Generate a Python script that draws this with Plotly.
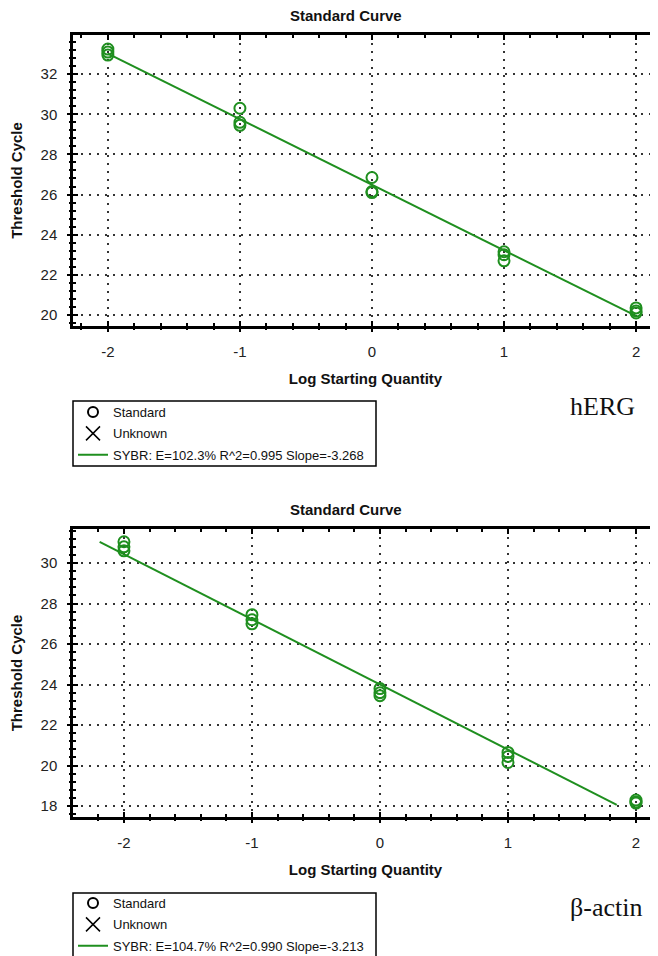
import plotly.graph_objects as go

W, H = 658, 956
OFF = 8  # page body margin of the browser

# ---------------- data ----------------
log_qty = [-2, -2, -2, -1, -1, -1, 0, 0, 0, 1, 1, 1, 2, 2, 2]

herg_ct = [33.25, 33.1, 32.95, 30.3, 29.6, 29.45, 26.85, 26.15, 26.1,
           23.15, 23.0, 22.7, 20.35, 20.2, 20.1]
herg_fit_x = [-2.0, 2.0]
herg_fit_y = [33.02, 19.95]
herg_label = "SYBR: E=102.3% R^2=0.995 Slope=-3.268"

actin_ct = [31.05, 30.8, 30.6, 27.45, 27.2, 27.0, 23.8, 23.6, 23.45,
            20.65, 20.45, 20.15, 18.3, 18.2, 18.15]
actin_fit_x = [-2.19, 1.85]
actin_fit_y = [31.04, 18.06]
actin_label = "SYBR: E=104.7% R^2=0.990 Slope=-3.213"

x_ticks = [-2, -1, 0, 1, 2]
x_tick_labels = ["-2", "-1", "0", "1", "2"]
herg_y_ticks = [20, 22, 24, 26, 28, 30, 32]
actin_y_ticks = [18, 20, 22, 24, 26, 28, 30]

GREEN = "#1f8f1f"
FONT = "Liberation Sans, Arial, sans-serif"

fig = go.Figure()


def px_x(p):
    return (p - OFF) / W


def px_y(p):
    return 1 - (p - OFF) / H


panels = [
    dict(ct=herg_ct, fx=herg_fit_x, fy=herg_fit_y, label=herg_label,
         xr=[-2.264, 2.166], yr=[19.45, 33.95], yt=herg_y_ticks,
         top=35, bottom=326, title_y=15, box=(401, 466), legend_top=397,
         name="hERG", name_x=602, name_y=406, legend="legend"),
    dict(ct=actin_ct, fx=actin_fit_x, fy=actin_fit_y, label=actin_label,
         xr=[-2.398, 2.172], yr=[17.46, 31.68], yt=actin_y_ticks,
         top=529, bottom=817, title_y=510, box=(893, 958), legend_top=888,
         name="β-actin", name_x=606, name_y=907, legend="legend2"),
]

layout = dict(
    width=W, height=H, margin=dict(l=0, r=0, t=0, b=0),
    paper_bgcolor="white", plot_bgcolor="white",
    font=dict(family=FONT, color="#111"),
    annotations=[], shapes=[],
)

for i, p in enumerate(panels):
    xa = "x" if i == 0 else "x2"
    ya = "y" if i == 0 else "y2"
    xo = "x3" if i == 0 else "x4"
    yo = "y3" if i == 0 else "y4"
    xkey = "xaxis" if i == 0 else "xaxis2"
    ykey = "yaxis" if i == 0 else "yaxis2"
    xokey = "xaxis3" if i == 0 else "xaxis4"
    yokey = "yaxis3" if i == 0 else "yaxis4"
    dom_x = [px_x(73), px_x(658)]
    dom_y = [px_y(p["bottom"]), px_y(p["top"])]

    # fit line
    fig.add_trace(go.Scatter(x=p["fx"], y=p["fy"], mode="lines", xaxis=xa, yaxis=ya,
                             line=dict(color=GREEN, width=2), showlegend=False,
                             hoverinfo="skip"))
    # standards
    fig.add_trace(go.Scatter(x=log_qty, y=p["ct"], mode="markers", xaxis=xa, yaxis=ya,
                             marker=dict(symbol="circle-open", size=11, color=GREEN,
                                         line=dict(width=2, color=GREEN)),
                             showlegend=False))
    # legend entries
    fig.add_trace(go.Scatter(x=[None], y=[None], mode="markers", xaxis=xa, yaxis=ya,
                             name="Standard", legend=p["legend"], legendgroup=f"s{i}",
                             marker=dict(symbol="circle-open", size=10, color="black",
                                         line=dict(width=2, color="black"))))
    fig.add_trace(go.Scatter(x=[None], y=[None], mode="markers", xaxis=xa, yaxis=ya,
                             name="Unknown", legend=p["legend"], legendgroup=f"u{i}",
                             marker=dict(symbol="x-thin-open", size=14, color="black",
                                         line=dict(width=1.5, color="black"))))
    fig.add_trace(go.Scatter(x=[None], y=[None], mode="lines", xaxis=xa, yaxis=ya,
                             name=p["label"], legend=p["legend"], legendgroup=f"f{i}",
                             line=dict(color=GREEN, width=2)))
    # empty traces to activate overlay axes (crossing ticks)
    fig.add_trace(go.Scatter(x=[], y=[], xaxis=xo, yaxis=ya, showlegend=False))
    fig.add_trace(go.Scatter(x=[], y=[], xaxis=xa, yaxis=yo, showlegend=False))

    grid = dict(showgrid=True, gridcolor="#333", griddash="2px,6px", gridwidth=1.5,
                zeroline=False)
    layout[xkey] = dict(
        domain=dom_x, anchor=ya, range=p["xr"], tickvals=x_ticks, ticktext=x_tick_labels,
        ticks="inside", ticklen=5, tickwidth=2, tickcolor="black",
        minor=dict(dtick=0.2, tick0=0, ticks="inside", ticklen=3, tickwidth=2,
                   tickcolor="black", showgrid=False),
        showline=True, linewidth=2.5, linecolor="black", mirror="ticks",
        tickfont=dict(size=15, color="#222"), ticklabelstandoff=10,
        title=dict(text="<b>Log Starting Quantity</b>", font=dict(size=15, color="#111"),
                   standoff=15),
        fixedrange=True, **grid)
    layout[ykey] = dict(
        domain=dom_y, anchor=xa, range=p["yr"], tickvals=p["yt"],
        ticks="inside", ticklen=5, tickwidth=2, tickcolor="black",
        minor=dict(dtick=0.4, tick0=0, ticks="inside", ticklen=3, tickwidth=2,
                   tickcolor="black", showgrid=False),
        showline=True, linewidth=2.5, linecolor="black",
        tickfont=dict(size=15, color="#222"), ticklabelstandoff=10,
        title=dict(text="<b>Threshold Cycle</b>", font=dict(size=15, color="#111"),
                   standoff=18),
        fixedrange=True, **grid)
    layout[xokey] = dict(
        overlaying=xa, anchor=ya, range=p["xr"], tickvals=x_ticks,
        ticks="outside", ticklen=5, tickwidth=2, tickcolor="black",
        minor=dict(dtick=0.2, tick0=0, ticks="outside", ticklen=3, tickwidth=2,
                   tickcolor="black", showgrid=False),
        showticklabels=False, showgrid=False, showline=False, zeroline=False,
        side="bottom", fixedrange=True)
    layout[yokey] = dict(
        overlaying=ya, anchor=xa, range=p["yr"], tickvals=p["yt"],
        ticks="outside", ticklen=5, tickwidth=2, tickcolor="black",
        minor=dict(dtick=0.4, tick0=0, ticks="outside", ticklen=3, tickwidth=2,
                   tickcolor="black", showgrid=False),
        showticklabels=False, showgrid=False, showline=False, zeroline=False,
        side="left", fixedrange=True)

    layout[p["legend"]] = dict(
        x=px_x(73), y=px_y(p["legend_top"]), xanchor="left", yanchor="top",
        bgcolor="rgba(0,0,0,0)", borderwidth=0, tracegroupgap=1.5,
        font=dict(size=13, color="#111", family=FONT), traceorder="grouped",
        itemclick=False, itemdoubleclick=False,
    )
    layout["shapes"].append(dict(
        type="rect", xref="paper", yref="paper",
        x0=px_x(73), x1=px_x(376), y0=px_y(p["box"][1]), y1=px_y(p["box"][0]),
        line=dict(color="black", width=1.5), fillcolor="rgba(0,0,0,0)"))

    layout["annotations"].append(dict(
        text="<b>Standard Curve</b>", x=px_x(346), y=px_y(p["title_y"]),
        xref="paper", yref="paper", xanchor="center", yanchor="middle",
        showarrow=False, font=dict(size=15, color="#111", family=FONT)))
    layout["annotations"].append(dict(
        text=p["name"], x=px_x(p["name_x"]), y=px_y(p["name_y"]),
        xref="paper", yref="paper", xanchor="center", yanchor="middle",
        showarrow=False,
        font=dict(size=26, color="#111", family="Liberation Serif, Times New Roman, serif")))

fig.update_layout(**layout)
fig.write_html("out.html", config={"displayModeBar": False})
